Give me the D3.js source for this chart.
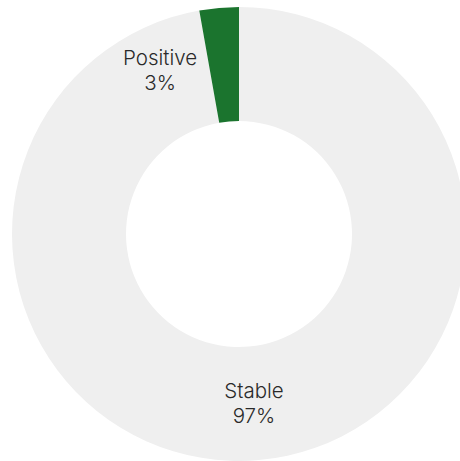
<!DOCTYPE html>
<html><head><meta charset="utf-8">
<script src="https://cdn.jsdelivr.net/npm/d3@7"></script>
<style>html,body{margin:0;padding:0;background:#fff;}svg{display:block;}</style>
</head><body>
<svg id="chart" width="460" height="461"></svg>
<script>
const categories = ["Stable", "Positive"];
const values = [97.2, 2.8];
const colors = ["#efefef", "#1b742e"];

const svg = d3.select("#chart");
const cx = 239, cy = 234, outerR = 227, innerR = 113;
const g = svg.append("g").attr("transform", `translate(${cx},${cy})`);
const data = categories.map((c, i) => ({ name: c, value: values[i], color: colors[i] }));
const pie = d3.pie().value(d => d.value).sort(null);
const arc = d3.arc().innerRadius(innerR).outerRadius(outerR);
const arcs = pie(data);

g.selectAll("path").data(arcs).enter().append("path")
  .attr("d", arc).attr("fill", d => d.data.color);

const labelArc = d3.arc().innerRadius((innerR + outerR) / 2).outerRadius((innerR + outerR) / 2);
arcs.forEach(a => {
  let [x, y] = labelArc.centroid(a);
  if (a.endAngle - a.startAngle < 0.3) { x -= 64; y += 5; }
  const t = g.append("text").attr("text-anchor", "middle")
    .attr("font-family", "Inter, sans-serif").attr("font-size", 20.5).attr("font-weight", 300)
    .attr("fill", "#2a2a2a");
  t.append("tspan").attr("x", x).attr("y", y - 5).text(a.data.name);
  t.append("tspan").attr("x", x).attr("y", y + 20).text(Math.round(a.data.value) + "%");
});
</script>
</body></html>
